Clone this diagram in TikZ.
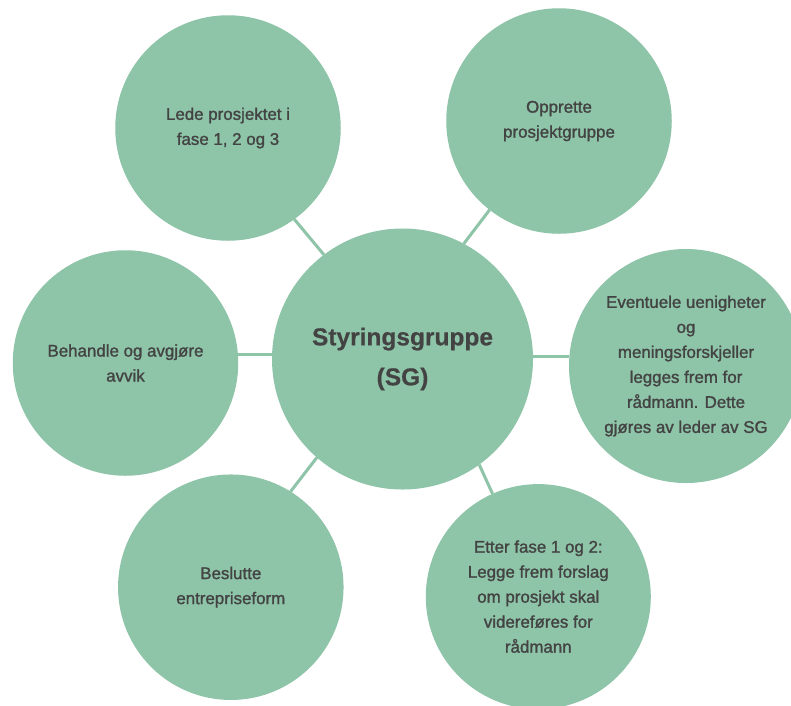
\documentclass[tikz,border=0pt]{standalone}
\usepackage{fontspec}
\setmainfont{Liberation Sans}
\newfontfamily\bodyfont{Liberation Sans}[FakeBold=1.3]
\newfontfamily\headfont{Liberation Sans}[FakeBold=0.4]
\definecolor{sgfill}{HTML}{8EC4A8}
\definecolor{sgtext}{HTML}{434343}
\begin{document}
\begin{tikzpicture}[x=1pt,y=-1pt,
  bubble/.style={circle,fill=sgfill,inner sep=0pt,outer sep=0pt,
    align=center,text=sgtext,font=\bodyfont\fontsize{16.9}{25}\selectfont},
  hub/.style={bubble,minimum size=261pt,
    font=\headfont\fontsize{24.5}{40}\selectfont\bfseries},
  spoke/.style={draw=sgfill,line width=3pt}]
\clip (0,0) rectangle (791,705);
\fill[white] (0,0) rectangle (791,705);

% central steering group
\node[hub] (sg) at (402.5,359) {Styringsgruppe\\(SG)};

% tasks around it
\node[bubble,minimum size=225.5pt] (tl) at (228,128)
  {Lede prosjektet i\\fase 1, 2 og 3};
\node[bubble,minimum size=225.5pt] (tr) at (559,121)
  {Opprette\\prosjektgruppe};
\node[bubble,minimum size=234pt] (rt) at (686,366)
  {Eventuele uenigheter\\og\\meningsforskjeller\\legges frem for\\rådmann. Dette\\gjøres av leder av SG};
\node[bubble,minimum size=225pt] (br) at (538.3,596.6)
  {Etter fase 1 og 2:\\Legge frem forslag\\om prosjekt skal\\videreføres for\\rådmann};
\node[bubble,minimum size=225.5pt] (bl) at (230.8,587.2)
  {Beslutte\\entrepriseform};
\node[bubble,minimum size=225.5pt] (lf) at (125.5,363)
  {Behandle og avgjøre\\avvik};

% spokes
\draw[spoke] (sg.127.5) -- (tl.306.3);
\draw[spoke] (sg.62.6) -- (tr.232.5);
\draw[spoke] (sg.1.3) -- (sg.1.3 -| rt.west);
\draw[spoke] (sg.-54.1) -- (br.114.7);
\draw[spoke] (sg.229.4) -- (bl.58.5);
\draw[spoke] (sg.178.7) -- (sg.178.7 -| lf.east);
\end{tikzpicture}
\end{document}
